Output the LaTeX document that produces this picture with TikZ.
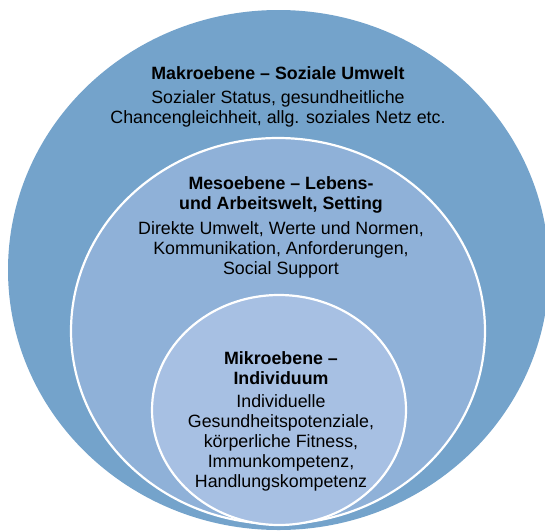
\documentclass[tikz,border=0pt]{standalone}
\usepackage{fontspec}
\setmainfont{Liberation Sans}
\begin{document}
\begin{tikzpicture}[x=1pt,y=-1pt,
  headtext/.style={align=center,inner sep=0pt,font=\fontsize{17.8}{20}\selectfont\bfseries},
  bodytext/.style={align=center,inner sep=0pt,font=\fontsize{17.8}{20}\selectfont},
  ring/.style={draw=white,line width=2.2pt}]
\useasboundingbox (0,0) rectangle (545,530);
\clip (0,0) rectangle (545,530);
% three nested levels
\fill[fill={rgb,255:red,116;green,163;blue,203}] (278.5,270) ellipse [x radius=270.5pt, y radius=260pt];
\filldraw[ring,fill={rgb,255:red,143;green,177;blue,216}] (278,331) ellipse [x radius=207pt, y radius=193pt];
\filldraw[ring,fill={rgb,255:red,167;green,192;blue,227}] (279,410) ellipse [x radius=127pt, y radius=115pt];
% macro level
\node[headtext] (makrohead) at (278,73) {Makroebene – Soziale Umwelt};
\node[bodytext] (makrobody) at (278,109) {Sozialer Status, gesundheitliche\\Chancengleichheit, allg. soziales Netz etc.};
% meso level
\node[headtext] (mesohead) at (281,195) {Mesoebene – Lebens-\\und Arbeitswelt, Setting};
\node[bodytext] (mesobody) at (281,250) {Direkte Umwelt, Werte und Normen,\\Kommunikation, Anforderungen,\\Social Support};
% micro level
\node[headtext] (mikrohead) at (281,368) {Mikroebene –\\Individuum};
\node[bodytext] (mikrobody) at (281,443) {Individuelle\\Gesundheitspotenziale,\\körperliche Fitness,\\Immunkompetenz,\\Handlungskompetenz};
\end{tikzpicture}
\end{document}
